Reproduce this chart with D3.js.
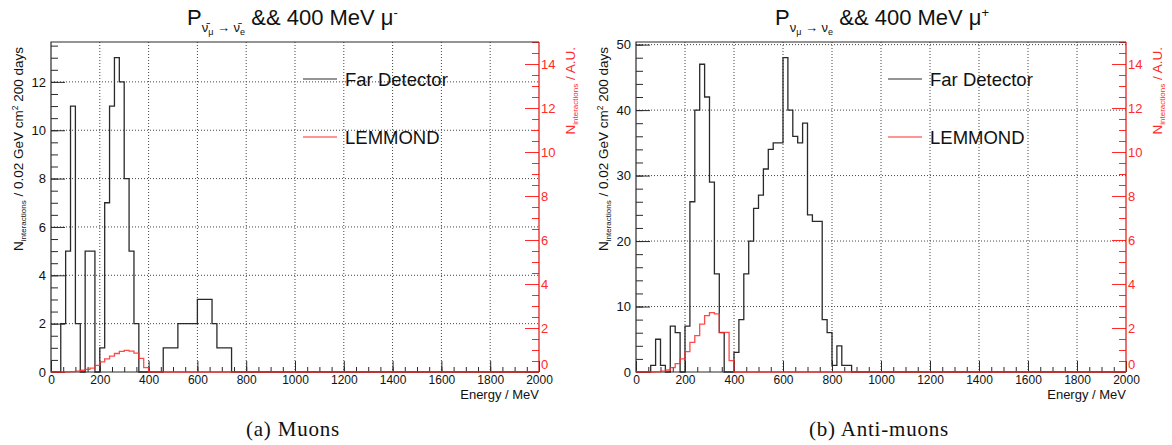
<!DOCTYPE html>
<html>
<head>
<meta charset="utf-8">
<script src="https://cdn.jsdelivr.net/npm/d3@7"></script>
<style>
  body { margin: 0; background: #fff; }
  svg text { font-family: "Liberation Sans", Arial, Helvetica, sans-serif; }
  .caption { font-family: "Liberation Serif", "Times New Roman", serif !important; }
</style>
</head>
<body>
<main></main>
<script>
// energy bins are 20 MeV wide, counts listed from 0 MeV upwards (empty bins after the list)
const binWidth = 20
const xTicks = [0, 200, 400, 600, 800, 1000, 1200, 1400, 1600, 1800, 2000]
const legendLabels = ["Far Detector", "LEMMOND"]
const captions = ["(a) Muons", "(b) Anti-muons"]

const muonFar = [0, 0, 2, 5, 11, 2, 0, 5, 5, 0, 1, 7, 11, 13, 12, 8, 5, 2, 0, 0,
  0, 0, 0, 1, 1, 1, 2, 2, 2, 2, 3, 3, 3, 2, 1, 1, 1]
const muonLemmond = [0, 0, 0, 0.005, 0.015, 0.04, 0.08, 0.12, 0.18, 0.3, 0.46, 0.6,
  0.72, 0.84, 0.94, 0.98, 0.95, 0.86, 0.62, 0.2]
const muonTicks = [0, 2, 4, 6, 8, 10, 12]

const antiFar = [0, 0, 0, 1, 5, 1, 0, 7, 6, 0, 7, 26, 40, 47, 42, 29, 15, 6, 0, 0,
  3, 8, 15, 20, 25, 27, 31, 34, 35, 35, 48, 40, 36, 35, 38, 24, 23, 23, 8, 6,
  1, 4, 1, 1]
const antiLemmond = [0, 0, 0, 0, 0.01, 0.04, 0.09, 0.2, 0.38, 0.6, 0.93, 1.35,
  1.65, 2.18, 2.56, 2.7, 2.64, 1.8, 1.8, 0.52]
const antiTicks = [0, 10, 20, 30, 40, 50]

const auTicks = [0, 2, 4, 6, 8, 10, 12, 14]

const W = 1172
const H = 445
const black = "#2a2a2a"
const red = "#ff2a2a"

const svg = d3.select("main").append("svg").attr("width", W).attr("height", H)

const toSteps = (vals) => {
  const n = 2000 / binWidth
  const pts = d3.range(n).map((i) => [i * binWidth, vals[i] || 0])
  pts.push([2000, 0])
  return pts
}

const drawPanel = (p) => {
  const top = 42
  const bottom = 372
  const g = svg.append("g")

  const x = d3.scaleLinear().domain([0, 2000]).range([p.left, p.right])
  const y = d3.scaleLinear().domain([0, d3.max(p.far) * 1.05]).range([bottom, top])
  const yAU = d3.scaleLinear().domain([0, 15]).range([bottom, top])

  // dotted grid
  const grid = g.append("g").attr("stroke", "#444").attr("stroke-dasharray", "1,2")
  grid.selectAll(".vgrid")
    .data(xTicks.slice(1, -1))
    .enter()
    .append("line")
    .attr("x1", (d) => x(d)).attr("x2", (d) => x(d))
    .attr("y1", top).attr("y2", bottom)
  grid.selectAll(".hgrid")
    .data(p.ticks.slice(1))
    .enter()
    .append("line")
    .attr("x1", p.left).attr("x2", p.right)
    .attr("y1", (d) => y(d)).attr("y2", (d) => y(d))

  // x axis, ticks pointing inward
  const xAxis = d3.axisBottom(x).tickValues(xTicks).tickSize(-11).tickPadding(3)
    .tickFormat(d3.format("d"))
  const gx = g.append("g").attr("transform", `translate(0, ${bottom})`).call(xAxis)
  g.append("g").attr("transform", `translate(0, ${bottom})`)
    .call(d3.axisBottom(x).tickValues(d3.range(0, 2001, 50)).tickSize(-5).tickFormat(""))

  // left axis
  const gy = g.append("g").attr("transform", `translate(${p.left}, 0)`)
    .call(d3.axisLeft(y).tickValues(p.ticks).tickSize(-14).tickPadding(5))
  g.append("g").attr("transform", `translate(${p.left}, 0)`)
    .call(d3.axisLeft(y).tickValues(d3.range(0, y.domain()[1], p.minor)).tickSize(-7).tickFormat(""))

  g.selectAll(".domain").remove()
  g.selectAll(".tick line").attr("stroke", black)

  // right axis (A.U.)
  const gr = g.append("g").attr("transform", `translate(${p.right}, 0)`)
    .call(d3.axisRight(yAU).tickValues(auTicks).tickSize(-14).tickPadding(2))
  const grm = g.append("g").attr("transform", `translate(${p.right}, 0)`)
    .call(d3.axisRight(yAU).tickValues(d3.range(0, 15.01, 0.5)).tickSize(-7).tickFormat(""))
  gr.select(".domain").remove()
  grm.select(".domain").remove()
  gr.selectAll(".tick line").attr("stroke", red)
  grm.selectAll(".tick line").attr("stroke", red)

  gx.selectAll("text").attr("font-size", 12).attr("fill", "#111")
  gy.selectAll("text").attr("font-size", 13).attr("fill", "#111")
  gr.selectAll("text").attr("font-size", 13).attr("fill", red)
  // lift the red zero a little so it does not sit on the 2000 label
  gr.selectAll("text").filter((d) => d === 0).attr("dy", "-0.25em")

  // frame
  g.append("path")
    .attr("d", `M${p.right},${top}H${p.left}V${bottom}H${p.right}`)
    .attr("fill", "none").attr("stroke", black).attr("stroke-width", 1.2)
  g.append("line")
    .attr("x1", p.right).attr("x2", p.right).attr("y1", top).attr("y2", bottom)
    .attr("stroke", "#e01010").attr("stroke-width", 1.2)

  // histograms
  const lineFar = d3.line().x((d) => x(d[0])).y((d) => y(d[1])).curve(d3.curveStepAfter)
  const lineAU = d3.line().x((d) => x(d[0])).y((d) => yAU(d[1])).curve(d3.curveStepAfter)
  g.append("path").attr("d", lineFar(toSteps(p.far)))
    .attr("fill", "none").attr("stroke", black).attr("stroke-width", 1.3)
  g.append("path").attr("d", lineAU(toSteps(p.lemmond)))
    .attr("fill", "none").attr("stroke", red).attr("stroke-width", 1.3).attr("opacity", 0.85)

  // axis titles
  g.append("text")
    .attr("x", p.right).attr("y", 399)
    .attr("text-anchor", "end").attr("font-size", 13).attr("fill", "#111")
    .text("Energy / MeV")

  const yt = g.append("text")
    .attr("transform", `translate(${p.left - 28}, 47) rotate(-90)`)
    .attr("text-anchor", "end").attr("font-size", 13.5).attr("fill", "#111")
  yt.append("tspan").text("N")
  yt.append("tspan").attr("font-size", 8).attr("dy", 3).text("interactions")
  yt.append("tspan").attr("dy", -3).text(" / 0.02 GeV cm")
  yt.append("tspan").attr("font-size", 8.5).attr("dy", -5).text("2")
  yt.append("tspan").attr("dy", 5).text(" 200 days")

  const rt = g.append("text")
    .attr("transform", `translate(${p.right + 36}, 47) rotate(-90)`)
    .attr("text-anchor", "end").attr("font-size", 13.5).attr("fill", red)
  rt.append("tspan").text("N")
  rt.append("tspan").attr("font-size", 8).attr("dy", 3).text("interactions")
  rt.append("tspan").attr("dy", -3).text(" / A.U.")

  // legend
  const leg = g.selectAll(".legend")
    .data(legendLabels)
    .enter()
    .append("g")
    .attr("transform", (d, i) => `translate(${p.left + 252}, ${79 + i * 58})`)
  leg.append("line")
    .attr("x1", 0).attr("x2", 34)
    .attr("stroke", (d, i) => (i === 0 ? black : red)).attr("stroke-width", 1.2)
  leg.append("text")
    .attr("x", 42).attr("y", 7)
    .attr("font-size", 18.5).attr("fill", "#111")
    .text((d) => d)

  // title
  const t = g.append("text")
    .attr("x", p.titleX).attr("y", 25)
    .attr("font-size", 22).attr("fill", "#111")
  t.append("tspan").text("P")
  t.append("tspan").attr("font-size", 13).attr("dy", 7).text(p.nu1)
  t.append("tspan").attr("font-size", 9).attr("dy", 3).text("μ")
  t.append("tspan").attr("font-size", 13).attr("dy", -3).text(" → " + p.nu1)
  t.append("tspan").attr("font-size", 9).attr("dy", 3).text("e")
  t.append("tspan").attr("dy", -10).text(" && 400 MeV μ")
  t.append("tspan").attr("font-size", 13).attr("dy", -8).text(p.charge)

  // caption
  svg.append("text")
    .attr("class", "caption")
    .attr("x", (p.left + p.right) / 2 - 2).attr("y", 436)
    .attr("text-anchor", "middle").attr("font-size", 21).attr("letter-spacing", 0.8)
    .attr("fill", "#111")
    .text(p.caption)
}

drawPanel({
  left: 51, right: 539, far: muonFar, lemmond: muonLemmond,
  ticks: muonTicks, minor: 0.5, titleX: 187, nu1: "ν̄", charge: "-", caption: captions[0],
})
drawPanel({
  left: 636, right: 1126, far: antiFar, lemmond: antiLemmond,
  ticks: antiTicks, minor: 2, titleX: 775, nu1: "ν", charge: "+", caption: captions[1],
})
</script>
</body>
</html>
